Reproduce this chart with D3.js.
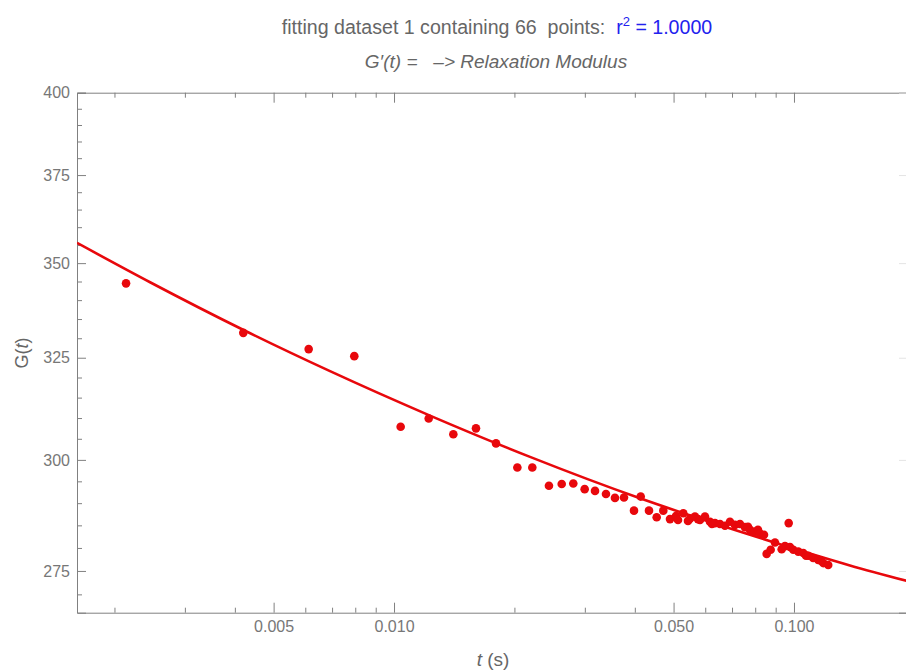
<!DOCTYPE html>
<html>
<head>
<meta charset="utf-8">
<script src="https://cdn.jsdelivr.net/npm/d3@7"></script>
<style>
  body { margin: 0; background: #fff; }
  svg { font-family: "Liberation Sans", Arial, sans-serif; }
  .axis path, .axis line { stroke: #808080; }
  .axis text { fill: #777; font-size: 16px; font-family: "Liberation Sans", Arial, sans-serif; }
  .title { white-space: pre; }
</style>
</head>
<body>
<div class="chart"></div>
<script>
// measured points: t (s) and G(t)
const tVals = [0.002138, 0.004199, 0.006118, 0.007956, 0.01039, 0.01221, 0.01407, 0.01603, 0.01799,
  0.02034, 0.02217, 0.02440, 0.02626, 0.02807, 0.02997, 0.03181, 0.03388, 0.03568, 0.03758,
  0.03981, 0.04138, 0.04340, 0.04537, 0.04713, 0.04898, 0.05070, 0.05129, 0.05288, 0.05433,
  0.05495, 0.05655, 0.05754, 0.05821, 0.05991, 0.06166, 0.06237, 0.06346, 0.06531, 0.06722,
  0.06918, 0.07120, 0.07328, 0.07542, 0.07674, 0.07762, 0.07989, 0.08128, 0.08222, 0.08414,
  0.08545, 0.08744, 0.08964, 0.09317, 0.09495, 0.09700, 0.09772, 0.09960, 0.1025, 0.1055,
  0.1072, 0.1086, 0.1117, 0.1150, 0.1168, 0.1184, 0.1218];
const gVals = [344.5, 331.4, 327.2, 325.4, 307.9, 309.9, 306.1, 307.5, 303.9,
  298.2, 298.2, 294.0, 294.4, 294.5, 293.2, 292.8, 292.1, 291.2, 291.3,
  288.3, 291.5, 288.3, 286.8, 288.3, 286.4, 287.1, 286.2, 287.7, 286.0,
  286.5, 287.0, 286.4, 286.2, 287.0, 285.8, 285.3, 285.5, 285.3, 284.9,
  285.8, 285.1, 285.3, 284.6, 284.7, 284.0, 283.6, 284.0, 283.2, 282.9,
  278.7, 279.6, 281.2, 279.7, 280.4, 285.5, 280.2, 279.6, 279.2, 278.9,
  278.3, 278.3, 277.8, 277.4, 277.2, 276.7, 276.3];

// fitted relaxation modulus curve
const fitT = [0.001612, 0.002455, 0.004193, 0.006918, 0.01230, 0.02188, 0.04121, 0.07762, 0.1380, 0.1928];
const fitG = [355.6, 344.8, 332.2, 321.6, 310.6, 300.7, 291.1, 282.9, 276.2, 272.8];

const xMajor = [0.005, 0.01, 0.05, 0.1];
const xMinor = [0.002, 0.003, 0.004, 0.006, 0.007, 0.008, 0.009, 0.02, 0.03, 0.04, 0.06, 0.07, 0.08, 0.09];
const yMajor = [275, 300, 325, 350, 375, 400];
const yMinor = [270, 280, 285, 290, 295, 305, 310, 315, 320, 330, 335, 340, 345, 355, 360, 365, 370, 380, 385, 390, 395];

const W = 906, H = 670;
const margin = { top: 92.7, right: -2, bottom: 57.3, left: 77 };
const width = W - margin.left - margin.right;
const height = H - margin.top - margin.bottom;

const svg = d3.select(".chart").append("svg")
    .attr("width", W)
    .attr("height", H);

const g = svg.append("g")
    .attr("transform", `translate(${margin.left},${margin.top})`);

const x = d3.scaleLog().domain([0.001612, 0.1928]).range([0, width]);
const y = d3.scaleLog().domain([266.15, 400]).range([height, 0]);

// clip for the fit line
svg.append("defs").append("clipPath").attr("id", "plotclip")
  .append("rect").attr("width", width).attr("height", height);

// axes (ticks point into the frame)
g.append("g").attr("class", "axis")
    .attr("transform", `translate(0,${height})`)
    .call(d3.axisBottom(x).tickValues(xMajor).tickSize(-10).tickPadding(8).tickFormat(d3.format(".3f")));
g.append("g").attr("class", "axis")
    .attr("transform", `translate(0,${height})`)
    .call(d3.axisBottom(x).tickValues(xMinor).tickSize(-5).tickFormat(""))
    .select(".domain").remove();

g.append("g").attr("class", "axis")
    .call(d3.axisTop(x).tickValues(xMajor).tickSize(-10).tickFormat(""));
g.append("g").attr("class", "axis")
    .call(d3.axisTop(x).tickValues(xMinor).tickSize(-5).tickFormat(""))
    .select(".domain").remove();

g.append("g").attr("class", "axis")
    .call(d3.axisLeft(y).tickValues(yMajor).tickSize(-9).tickPadding(7).tickFormat(d3.format("d")));
g.append("g").attr("class", "axis")
    .call(d3.axisLeft(y).tickValues(yMinor).tickSize(-5).tickFormat(""))
    .select(".domain").remove();

// right frame sits just off the edge, only its faint ticks show
const right = g.append("g").attr("class", "axis")
    .attr("transform", `translate(${width},0)`)
    .call(d3.axisRight(y).tickValues(yMajor).tickSize(-9).tickFormat(""));
right.selectAll("line").style("stroke", "#e4e4e4");

// fit line
const line = d3.line()
    .x((d, i) => x(fitT[i]))
    .y(d => y(d))
    .curve(d3.curveMonotoneX);

g.append("path")
    .datum(fitG)
    .attr("clip-path", "url(#plotclip)")
    .attr("fill", "none")
    .attr("stroke", "#e8080c")
    .attr("stroke-width", 2.6)
    .attr("d", line);

// data points
g.selectAll(".dot")
    .data(tVals)
    .enter().append("circle")
    .attr("class", "dot")
    .attr("cx", d => x(d))
    .attr("cy", (d, i) => y(gVals[i]))
    .attr("r", 4.3)
    .attr("fill", "#e8080c");

// titles
const t1 = svg.append("text")
    .attr("class", "title")
    .attr("x", 497)
    .attr("y", 34)
    .attr("text-anchor", "middle")
    .style("font-size", "19.6px")
    .attr("fill", "#666");
t1.append("tspan").text("fitting dataset 1 containing 66  points:  ");
t1.append("tspan").attr("fill", "#2222ee").text("r");
t1.append("tspan").attr("fill", "#2222ee").attr("dy", -8).style("font-size", "13px").text("2");
t1.append("tspan").attr("fill", "#2222ee").attr("dy", 8).text(" = 1.0000");

const t2 = svg.append("text")
    .attr("class", "title")
    .attr("x", 496)
    .attr("y", 68)
    .attr("text-anchor", "middle")
    .style("font-size", "19px")
    .style("font-style", "italic")
    .attr("fill", "#666");
t2.append("tspan").text("G′(t) =   –> Relaxation Modulus");

// axis labels
const yl = svg.append("text")
    .attr("transform", "rotate(-90)")
    .attr("x", -353)
    .attr("y", 28)
    .attr("text-anchor", "middle")
    .style("font-size", "18px")
    .attr("fill", "#666");
yl.append("tspan").text("G(");
yl.append("tspan").style("font-style", "italic").text("t");
yl.append("tspan").text(")");

const xl = svg.append("text")
    .attr("class", "title")
    .attr("x", 493)
    .attr("y", 666)
    .attr("text-anchor", "middle")
    .style("font-size", "19px")
    .attr("fill", "#666");
xl.append("tspan").style("font-style", "italic").text("t");
xl.append("tspan").text(" (s)");
</script>
</body>
</html>
